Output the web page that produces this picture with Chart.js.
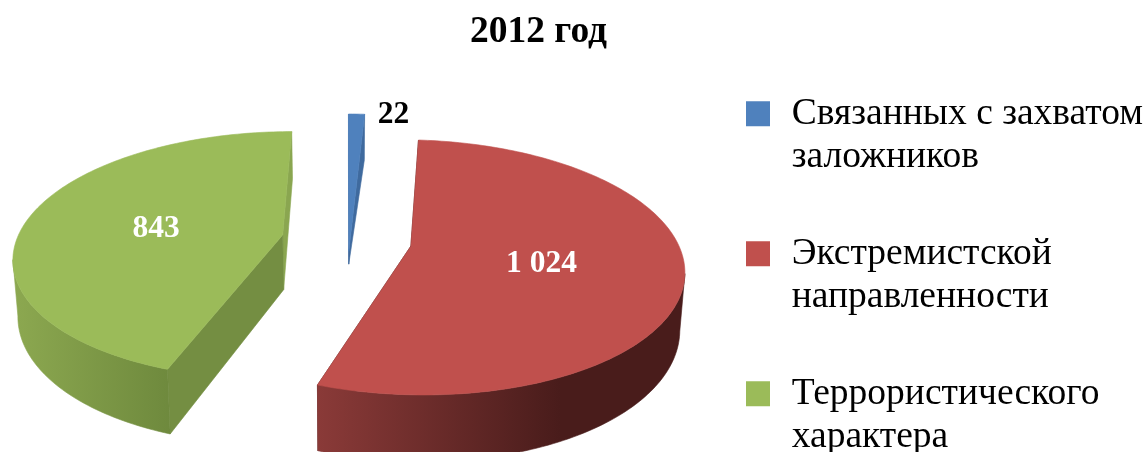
<!DOCTYPE html>
<html><head><meta charset="utf-8">
<style>html,body{margin:0;padding:0;background:#fff}#w{width:1147px;height:452px;position:relative}</style>
<script src="https://cdn.jsdelivr.net/npm/chart.js@4"></script>
</head><body><div id="w"><canvas id="c"></canvas></div>
<script>
const titleText = '2012 год';
const categories = [['Связанных с захватом','заложников'],['Экстремистской','направленности'],['Террористического','характера']];
const values = [22, 1024, 843];
const valueLabels = ['22', '1 024', '843'];
const topColors = ['#4F81BD', '#C0504D', '#9BBB59'];
const sideColors = [['#3F6A9E','#3F6A9E'], ['#8A3A38','#491C1B'], ['#8CA850','#6E893D']];
const startWallColors = ['#3F6A9E', '#491C1B', '#748E42'];
const endWallColors = ['#3F6A9E', '#491C1B', '#8AA650'];
const labelColors = ['#000000', '#FFFFFF', '#FFFFFF'];

const SERIF = '"Liberation Serif","Times New Roman",serif';
const view = {cx:346.5, cy:240, B:266, A:122, k:0.165, H:55, shrink:0.985, explode:0.245};
const apexDrop = [40, 0, 0];
const sideRange = [[347,363],[318,560],[14,172]];
const labelSpot = [{f:1, dx:37, dy:1}, {f:0.5, dx:-4, dy:5}, {f:0.5, dx:1, dy:4}];

function proj(u, v, low){
  const d = 1 - view.k * v;
  let x = u * view.B / d, y = v * view.A / d;
  if (low){ x *= view.shrink; y += view.H / d; }
  return [view.cx + x, view.cy + y];
}
function slicePts(a0, a1, explode, low){
  const mid = (a0 + a1) / 2, ou = Math.cos(mid) * explode, ov = Math.sin(mid) * explode;
  const n = Math.max(2, Math.ceil((a1 - a0) / 0.02)), rim = [];
  for (let i = 0; i <= n; i++){
    const a = a0 + (a1 - a0) * i / n;
    rim.push(proj(ou + Math.cos(a), ov + Math.sin(a), low));
  }
  return {apex: proj(ou, ov, low), rim};
}
function poly(ctx, pts, fill){
  ctx.beginPath();
  pts.forEach((p, i) => i ? ctx.lineTo(p[0], p[1]) : ctx.moveTo(p[0], p[1]));
  ctx.closePath();
  ctx.fillStyle = fill; ctx.strokeStyle = fill; ctx.lineWidth = 0.6;
  ctx.fill(); ctx.stroke();
}

const pie3d = {
  id: 'pie3d',
  afterLayout(chart){
    const t = chart.titleBlock, l = chart.legend;
    t.left = 0; t.right = 1077;
    l.left = 689; l.right = 1147; l.top = 41; l.bottom = 560;
  },
  beforeDatasetDraw(chart, args){
    const ctx = chart.ctx, arcs = args.meta.data;
    ctx.save();
    [0, 2, 1].forEach(i => {
      const p = arcs[i].getProps(['startAngle','endAngle']);
      const top = slicePts(p.startAngle, p.endAngle, view.explode, false);
      const low = slicePts(p.startAngle, p.endAngle, view.explode, true);
      const n = top.rim.length - 1;
      const apexTop = [top.apex[0], top.apex[1] + apexDrop[i]];
      poly(ctx, [apexTop, top.rim[n], low.rim[n], low.apex], endWallColors[i]);
      poly(ctx, [apexTop, top.rim[0], low.rim[0], low.apex], startWallColors[i]);
      const upper = [], lower = [];
      for (let j = 0; j <= n; j++){
        const moving = (j < n && top.rim[j+1][0] < top.rim[j][0]) || (j > 0 && top.rim[j][0] < top.rim[j-1][0]);
        if (moving){ upper.push(top.rim[j]); lower.unshift(low.rim[j]); }
      }
      if (upper.length){
        const g = ctx.createLinearGradient(sideRange[i][0], 0, sideRange[i][1], 0);
        g.addColorStop(0, sideColors[i][0]); g.addColorStop(1, sideColors[i][1]);
        poly(ctx, upper.concat(lower), g);
      }
      poly(ctx, [apexTop].concat(top.rim), topColors[i]);
    });
    ctx.font = 'bold 31.5px ' + SERIF;
    ctx.textAlign = 'center'; ctx.textBaseline = 'middle';
    arcs.forEach((arc, i) => {
      const p = arc.getProps(['startAngle','endAngle']);
      const mid = (p.startAngle + p.endAngle) / 2, s = labelSpot[i];
      const pt = proj(Math.cos(mid) * (view.explode + s.f), Math.sin(mid) * (view.explode + s.f), false);
      ctx.fillStyle = labelColors[i];
      ctx.fillText(valueLabels[i], pt[0] + s.dx, pt[1] + s.dy);
    });
    ctx.restore();
    return false;
  }
};

new Chart(document.getElementById('c'), {
  type: 'pie',
  data: { labels: categories, datasets: [{ data: values, backgroundColor: topColors, borderWidth: 0 }] },
  options: {
    responsive: true, maintainAspectRatio: false, animation: false,
    plugins: {
      tooltip: {enabled:false},
      title: { display:true, text: titleText, color:'#000', font:{family:SERIF, size:37.5, weight:'bold', lineHeight:1.15}, padding:{top:11, bottom:0} },
      legend: {
        position:'right', align:'start',
        labels: {
          color:'#000', font:{family:SERIF, size:37.5, lineHeight:1.147},
          boxWidth:30, boxHeight:31, padding:54,
          generateLabels(chart){
            return Chart.overrides.pie.plugins.legend.labels.generateLabels(chart).map(it => ({...it, lineWidth:6, strokeStyle:'#FFFFFF'}));
          }
        }
      }
    }
  },
  plugins: [pie3d]
});
</script></body></html>
